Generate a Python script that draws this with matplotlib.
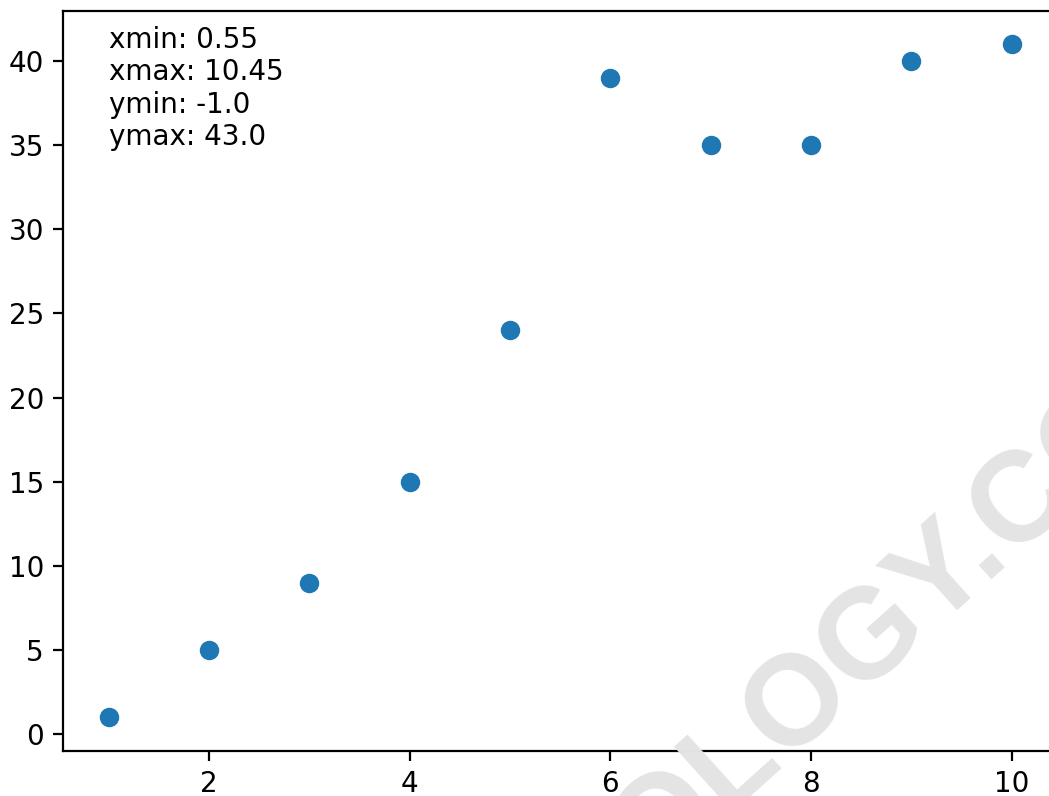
import matplotlib
matplotlib.use("Agg")
import matplotlib.pyplot as plt

x = [1, 2, 3, 4, 5, 6, 7, 8, 9, 10]
y = [1, 5, 9, 15, 24, 39, 35, 35, 40, 41]

fig = plt.figure(figsize=(1049 / 200, 796 / 200), dpi=200)
ax = fig.add_axes([63.4 / 1049, 45 / 796, (1057 - 63.4) / 1049, (751 - 10.5) / 796])
ax.scatter(x, y)
xmin, xmax = 0.55, 10.45
ymin, ymax = -1.0, 43.0
ax.set_xlim(xmin, xmax)
ax.set_ylim(ymin, ymax)
ax.text(1, 35, f"xmin: {xmin}\nxmax: {xmax}\nymin: {ymin}\nymax: {ymax}")

fig.text(805 / 1049, 1 - 700 / 796, "STATOLOGY.COM", rotation=42, fontsize=46,
         family="Liberation Sans", fontweight="bold", color="#e4e4e4",
         ha="center", va="center", rotation_mode="anchor", zorder=5)

fig.savefig("out.png", dpi=200)
